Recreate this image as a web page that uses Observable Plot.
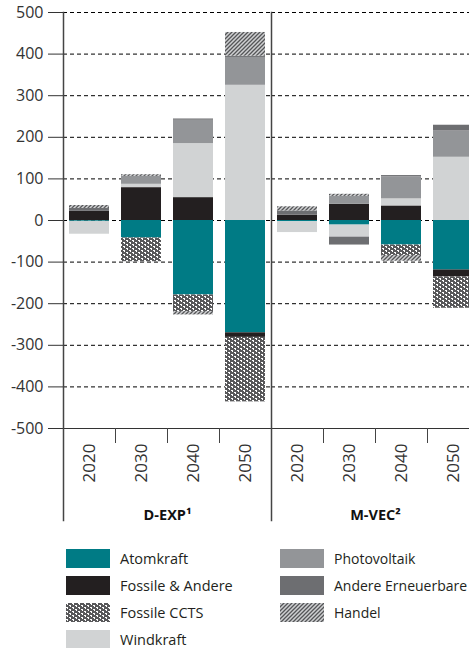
<!DOCTYPE html>
<html><head><meta charset="utf-8">
<script src="https://cdn.jsdelivr.net/npm/d3@7"></script>
<script src="https://cdn.jsdelivr.net/npm/@observablehq/plot@0.6"></script>
<style>
html,body{margin:0;padding:0;overflow:hidden;background:#fff;}
body{width:469px;height:648px;font-family:"Open Sans",sans-serif;}
#chart{width:469px;overflow:hidden;}
#chart svg{display:block;max-width:none !important;width:480px;height:523px;}
#legend{position:relative;height:125px;}
.item{position:absolute;display:flex;align-items:center;font-size:14.5px;color:#231f20;white-space:nowrap;height:19px;line-height:19px;}
.item.c2{font-size:14px;}
.item svg{margin-right:10px;flex:none;display:block;}
</style></head><body>
<svg width="0" height="0" style="position:absolute">
<defs>
<pattern id="ccts" patternUnits="userSpaceOnUse" width="6" height="4" shape-rendering="crispEdges">
<rect width="6" height="4" fill="#58585a"/>
<rect x="0" y="0" width="2" height="1" fill="#fff"/>
<rect x="1" y="1" width="1" height="1" fill="#fff"/>
<rect x="3" y="2" width="2" height="1" fill="#fff"/>
<rect x="4" y="3" width="1" height="1" fill="#fff"/>
</pattern>
<pattern id="handel" patternUnits="userSpaceOnUse" width="4" height="4">
<rect width="4" height="4" fill="#cfd0d2"/>
<path d="M-1,1 l2,-2 M0,4 l4,-4 M3,5 l2,-2" stroke="#555658" stroke-width="1.3"/>
</pattern>
</defs></svg>
<div id="chart"></div>
<div id="legend"></div>
<script>
const scenarios = ["D-EXP¹", "M-VEC²"];
const years = ["2020", "2030", "2040", "2050"];
const sources = ["Atomkraft", "Fossile & Andere", "Fossile CCTS", "Windkraft", "Photovoltaik", "Andere Erneuerbare", "Handel"];
const sourceColors = ["#007b85", "#231f20", "url(#ccts)", "#d1d3d4", "#939598", "#6d6e71", "url(#handel)"];
const yTicks = [-500, -400, -300, -200, -100, 0, 100, 200, 300, 400, 500];

// values per source: D-EXP 2020..2050, then M-VEC 2020..2050
const atomkraft         = [-2, -42, -179, -270, -3, -11, -59, -119];
const fossileAndere     = [22, 79, 55, -11, 13, 39, 35, -17];
const fossileCCTS       = [0, -57, -40, -155, 0, 0, -25, -75];
const windkraft         = [-31, 8, 130, 325, -26, -29, 17, 152];
const photovoltaik      = [0, 19, 56, 67, 0, 19, 53, 63];
const andereErneuerbare = [7, 0, 3, 3, 10, -19, 3, 14];
const handel            = [7, 4, -8, 57, 10, 5, -14, 0];

const seriesValues = [atomkraft, fossileAndere, fossileCCTS, windkraft, photovoltaik, andereErneuerbare, handel];

const data = [];
scenarios.forEach((s, si) => years.forEach((yr, yi) => sources.forEach((src, k) => {
  data.push({scenario: s, year: yr, source: src, value: seriesValues[k][si * years.length + yi]});
})));

const chart = Plot.plot({
  width: 480,
  height: 523,
  marginLeft: 63,
  marginRight: 1,
  marginTop: 12,
  marginBottom: 95,
  style: {fontFamily: "'Open Sans', sans-serif", color: "#333", background: "#fff", maxWidth: "none"},
  fx: {domain: scenarios, padding: 0, label: null, axis: null},
  x: {domain: years, paddingInner: 0.23, paddingOuter: 0.115, label: null, axis: null},
  y: {domain: [-500, 500], label: null, axis: null},
  color: {type: "ordinal", domain: sources, range: sourceColors},
  marks: [
    Plot.gridY({ticks: yTicks.filter(d => d > -500), stroke: "#000", strokeOpacity: 1, strokeWidth: 1, strokeDasharray: "4,3"}),
    Plot.barY(data, {fx: "scenario", x: "year", y: "value", fill: "source", order: sources}),
    Plot.ruleY([-500], {stroke: "#333", strokeWidth: 1}),
    Plot.frame({anchor: "left", stroke: "#444", strokeWidth: 1.5, insetBottom: -92}),
    Plot.axisY({ticks: yTicks, tickSize: 15, tickPadding: 5, fontSize: 16, label: null, stroke: "#333", tickFormat: d => String(d)}),
    Plot.axisX({anchor: "bottom", tickSize: 15, tickFormat: () => "", dx: 26, label: null, stroke: "#444"}),
    Plot.axisX({anchor: "bottom", tickSize: 0, tickPadding: 15, tickRotate: -90, fontSize: 17, label: null}),
    Plot.axisFx({anchor: "bottom", tickSize: 0, tickPadding: 81, fontSize: 14.5, fontWeight: "bold", label: null, fill: "#111"})
  ]
});
document.getElementById("chart").appendChild(chart);

const legend = document.getElementById("legend");
sources.forEach((src, i) => {
  const col = Math.floor(i / 4), row = i % 4;
  const item = document.createElement("div");
  item.className = "item" + (col === 1 ? " c2" : "");
  item.style.left = (66 + col * 214) + "px";
  item.style.top = (26 + row * 27) + "px";
  item.innerHTML = `<svg width="44" height="19"><rect width="44" height="19" fill="${sourceColors[i]}" shape-rendering="crispEdges"/></svg><span>${src}</span>`;
  legend.appendChild(item);
});
</script>
</body></html>
